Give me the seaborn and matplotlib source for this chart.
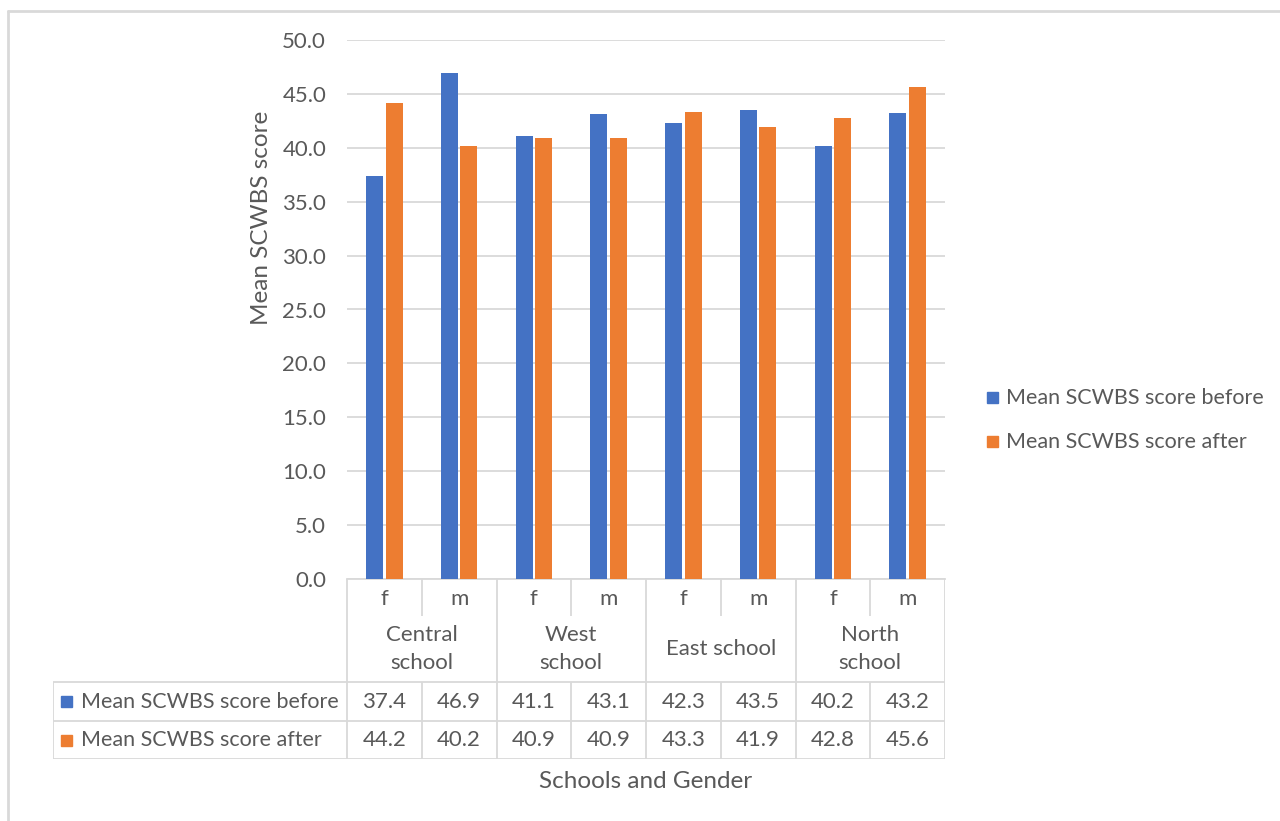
import numpy as np
import pandas as pd
import matplotlib
matplotlib.use("Agg")
import matplotlib.pyplot as plt
import seaborn as sns
from matplotlib.lines import Line2D
from matplotlib.patches import Rectangle

# ---- data -------------------------------------------------------------
schools = ["Central\nschool", "West\nschool", "East school", "North\nschool"]
genders = ["f", "m"]
series_names = ["Mean SCWBS score before", "Mean SCWBS score after"]
before = [37.4, 46.9, 41.1, 43.1, 42.3, 43.5, 40.2, 43.2]
after = [44.2, 40.2, 40.9, 40.9, 43.3, 41.9, 42.8, 45.6]
y_ticks = [0, 5, 10, 15, 20, 25, 30, 35, 40, 45, 50]
colors = ["#4472C4", "#ED7D31"]

groups = [f"{s.replace(chr(10), ' ')} {g}" for s in schools for g in genders]
df = pd.DataFrame({
    "group": groups * 2,
    "score": before + after,
    "series": [series_names[0]] * len(groups) + [series_names[1]] * len(groups),
})

# ---- style ------------------------------------------------------------
sns.set_style("white")
plt.rcParams["font.family"] = ["Lato", "DejaVu Sans"]
TXT = "#595959"
GRID = "#D9D9D9"
FS = 16        # numbers and category labels
FS_LBL = 15.5  # series names
FS_TTL = 17.5  # axis titles

W, H = 1280, 821
fig = plt.figure(figsize=(W / 100, H / 100), dpi=100)


def fx(px):
    return px / W


def fy(py):
    return 1 - py / H


X0, X1, Y0, Y1 = 347, 945, 40, 579
ax = fig.add_axes([fx(X0), fy(Y1), fx(X1) - fx(X0), fy(Y0) - fy(Y1)])

sns.barplot(data=df, x="group", y="score", hue="series", order=groups,
            hue_order=series_names, palette=colors, width=0.523, gap=0.128,
            linewidth=0, saturation=1, legend=False, ax=ax, zorder=3)

ax.set_xlim(-0.5, len(groups) - 0.5)
ax.set_ylim(0, 50)
ax.set_yticks(y_ticks)
ax.set_yticklabels([f"{v:.1f}" for v in y_ticks], color=TXT, fontsize=FS)
ax.tick_params(axis="y", length=0, pad=15)
ax.set_xticks([])
ax.set_xlabel("")
ax.set_ylabel("")
ax.yaxis.grid(True, color=GRID, lw=1.3, zorder=0)
ax.set_axisbelow(True)
for side in ["left", "right", "top"]:
    ax.spines[side].set_visible(False)
ax.spines["bottom"].set_color(GRID)
ax.spines["bottom"].set_linewidth(1.3)

# ---- data table under the axis ---------------------------------------
TL, TB = 53, 759
cw = (X1 - X0) / len(groups)
left_x = -0.5 - (X0 - TL) / cw
tab = fig.add_axes([fx(TL), fy(TB), fx(X1) - fx(TL), fy(Y1) - fy(TB)])
tab.set_xlim(left_x, len(groups) - 0.5)
tab.set_ylim(TB, Y1)
tab.axis("off")

lk = dict(color=GRID, lw=1.3, solid_capstyle="butt")
R1, R2, R3 = 682, 721, 759
n = len(groups)
for xv in [-0.5, n - 0.5] + [1.5, 3.5, 5.5]:
    tab.plot([xv, xv], [Y1, TB], **lk)
for xv in [0.5, 2.5, 4.5, 6.5]:
    tab.plot([xv, xv], [Y1, 616], **lk)
    tab.plot([xv, xv], [R1, TB], **lk)
tab.plot([left_x, left_x], [R1, TB], **lk)
for yv in [R1, R2, R3]:
    tab.plot([left_x, n - 0.5], [yv, yv], **lk)

for i in range(n):
    tab.text(i, 599, genders[i % 2], ha="center", va="center",
             color=TXT, fontsize=FS)
    tab.text(i, (R1 + R2) / 2, f"{before[i]:.1f}", ha="center",
             va="center", color=TXT, fontsize=FS)
    tab.text(i, (R2 + R3) / 2, f"{after[i]:.1f}", ha="center",
             va="center", color=TXT, fontsize=FS)
for k, s in enumerate(schools):
    tab.text(2 * k + 0.5, 649, s, ha="center", va="center", color=TXT,
             fontsize=FS, linespacing=1.55)

for j, (name, c) in enumerate(zip(series_names, colors)):
    yc = (R1 + R2) / 2 if j == 0 else (R2 + R3) / 2
    fig.add_artist(Rectangle((fx(61), fy(yc + 5.5)), fx(11), 11 / H,
                             color=c, transform=fig.transFigure))
    fig.text(fx(81), fy(yc), name, ha="left", va="center", color=TXT,
             fontsize=FS_LBL)

# ---- legend ----------------------------------------------------------
for yc, name, c in zip([398, 442], series_names, colors):
    fig.add_artist(Rectangle((fx(987), fy(yc + 5.5)), fx(11), 11 / H,
                             color=c, transform=fig.transFigure))
    fig.text(fx(1006), fy(yc), name, ha="left", va="center", color=TXT,
             fontsize=FS_LBL)

# ---- axis titles -----------------------------------------------------
fig.text(fx(646), fy(781), "Schools and Gender", ha="center", va="center",
         color=TXT, fontsize=FS_TTL)
fig.text(fx(262), fy(218), "Mean SCWBS score", ha="center", va="center",
         rotation=90, color=TXT, fontsize=FS_TTL)

# chart area frame
fig.add_artist(Line2D([fx(8), fx(8)], [fy(11), 0], color=GRID, lw=2,
                      transform=fig.transFigure))
fig.add_artist(Line2D([fx(8), 1], [fy(11), fy(11)], color=GRID, lw=2,
                      transform=fig.transFigure))

fig.savefig("out.png", dpi=100, facecolor="white")
